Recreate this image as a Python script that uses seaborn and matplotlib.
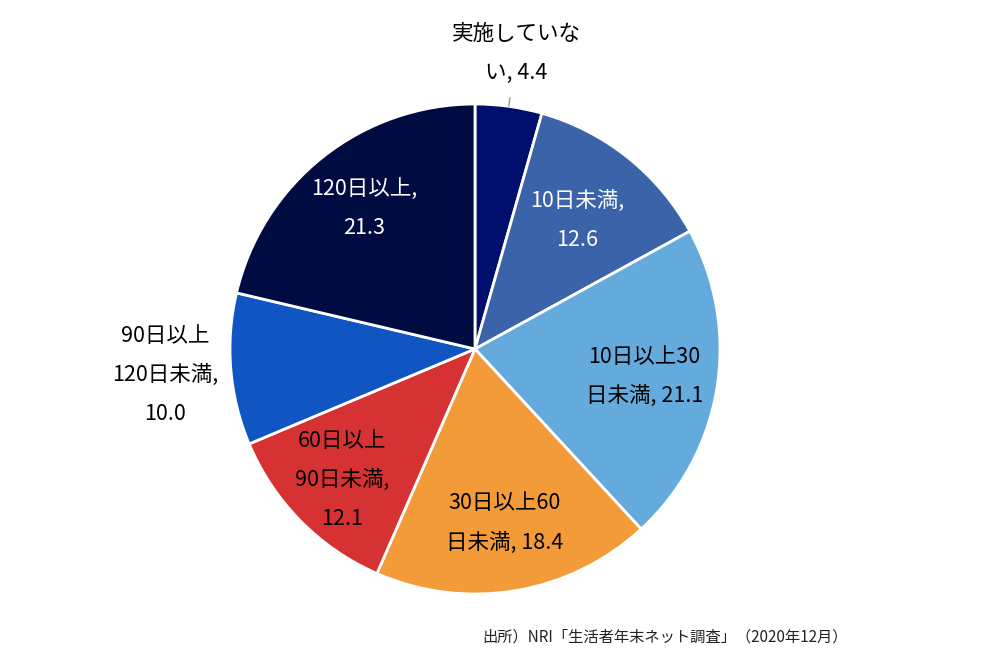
import numpy as np
import matplotlib.pyplot as plt
import seaborn as sns

categories = ["実施していない", "10日未満", "10日以上30日未満", "30日以上60日未満",
              "60日以上90日未満", "90日以上120日未満", "120日以上"]
values = [4.4, 12.6, 21.1, 18.4, 12.1, 10.0, 21.3]
label_texts = ["実施していな\nい, 4.4", "10日未満,\n12.6", "10日以上30\n日未満, 21.1",
               "30日以上60\n日未満, 18.4", "60日以上\n90日未満,\n12.1",
               "90日以上\n120日未満,\n10.0", "120日以上,\n21.3"]
colors = ["#000F6E", "#3A63A9", "#65AADD", "#F39A39", "#D63233", "#1155C3", "#000B42"]
text_colors = ["black", "white", "black", "black", "black", "black", "white"]
label_dist = [1.22, 0.67, 0.70, 0.72, 0.76, 1.27, 0.73]
source = "出所）NRI「生活者年末ネット調査」（2020年12月）"

sns.set_theme(style="white")
plt.rcParams['font.family'] = ['Noto Sans CJK JP', 'DejaVu Sans']

fig = plt.figure(figsize=(10, 6.67), dpi=100)
r_px = 245
cx, cy = 475, 667 - 349
ax = fig.add_axes([(cx - r_px) / 1000, (cy - r_px) / 667, 2 * r_px / 1000, 2 * r_px / 667])

wedges, _ = ax.pie(values, colors=colors, startangle=90, counterclock=False,
                   wedgeprops=dict(edgecolor="white", linewidth=2))
ax.set_xlim(-1, 1)
ax.set_ylim(-1, 1)
ax.set_aspect("auto")
ax.axis("off")

for w, txt, tc, d in zip(wedges, label_texts, text_colors, label_dist):
    ang = np.deg2rad((w.theta1 + w.theta2) / 2)
    ax.text(d * np.cos(ang), d * np.sin(ang), txt, ha="center", va="center",
            color=tc, fontsize=15.5, linespacing=2.0, clip_on=False)

# leader line for the small slice
ang0 = np.deg2rad((wedges[0].theta1 + wedges[0].theta2) / 2)
ax.plot([1.0 * np.cos(ang0), 1.035 * np.cos(ang0)], [1.0 * np.sin(ang0), 1.035 * np.sin(ang0)],
        color="#999999", linewidth=1, clip_on=False)

fig.text(0.848, 1 - 637 / 667, source, ha="right", va="center", fontsize=11, color="#222222")

fig.savefig("out.png", dpi=100)
